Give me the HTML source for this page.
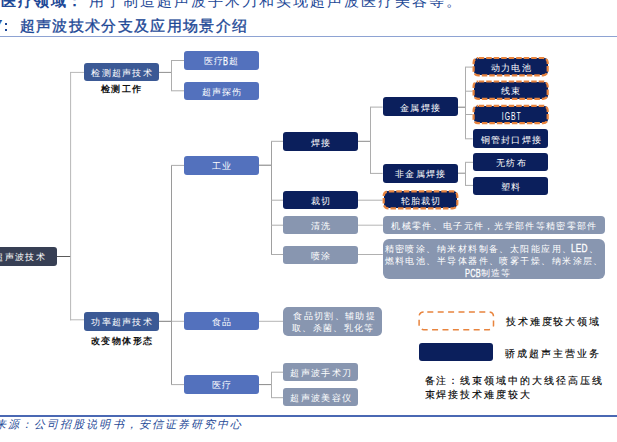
<!DOCTYPE html>
<html><head><meta charset="utf-8"><style>
*{margin:0;padding:0;box-sizing:border-box}
html,body{width:617px;height:442px;overflow:hidden;background:#fff}
body{position:relative;font-family:"Liberation Serif",serif}
.b{position:absolute;border-radius:3px;color:#fff;font-size:9px;padding-top:3px;font-weight:500;letter-spacing:1.3px;text-indent:1.3px;display:flex;align-items:center;justify-content:center;white-space:nowrap;line-height:1}
.ml{line-height:11.5px;justify-content:flex-start;padding-left:9px;white-space:normal}
.t{position:absolute;white-space:nowrap;line-height:1}
.lat{display:inline-block;font-family:'Liberation Sans',sans-serif;font-weight:bold;font-size:9.8px;vertical-align:top}
.lat span{display:inline-block;transform-origin:0 50%}
svg{position:absolute;left:0;top:0}
</style></head><body>

<div class="t" style="left:1px;top:-6px;font-size:15px;letter-spacing:2px;color:#1d4896"><b style="letter-spacing:1.6px">医疗领域：</b><span style="margin-left:4.5px">用于制造超声波手术刀和实现超声波医疗美容等。</span></div>
<div class="t" style="left:-22px;top:18.6px;font-size:15px;letter-spacing:1.35px;color:#1d4896;font-weight:400;-webkit-text-stroke:0.35px #1d4896"><span style="visibility:hidden">图7：</span><span>超声波技术分支及应用场景介绍</span></div>
<div class="t" style="left:-6px;top:18px;font-family:&quot;Liberation Serif&quot;,serif;font-size:15px;color:#1d4896;font-weight:bold;font-style:italic">7</div>
<div style="position:absolute;left:5.2px;top:23px;width:1.9px;height:2px;background:#1d4896"></div><div style="position:absolute;left:5.2px;top:29px;width:1.9px;height:2px;background:#1d4896"></div>
<div style="position:absolute;left:0;top:36px;width:617px;height:1px;background:#8ea3d3"></div>
<div style="position:absolute;left:0;top:414.5px;width:617px;height:2px;background:#4a68b3"></div>
<div class="t" style="left:-31px;top:419.3px;font-size:11px;letter-spacing:2.05px;color:#1d4896;font-style:italic">资料来源：公司招股说明书，安信证券研究中心</div>
<svg width="617" height="442" viewBox="0 0 617 442">
<line x1="57" y1="256.5" x2="71" y2="256.5" stroke="#5a5a5a" stroke-width="1"/>
<line x1="70.6" y1="72" x2="70.6" y2="320.3" stroke="#b8b8b8" stroke-width="1"/>
<line x1="70" y1="72.4" x2="84" y2="72.4" stroke="#b8b8b8" stroke-width="1"/>
<line x1="70" y1="319.8" x2="84" y2="319.8" stroke="#b8b8b8" stroke-width="1"/>
<line x1="159" y1="72.4" x2="171.5" y2="72.4" stroke="#909090" stroke-width="1"/>
<line x1="171.5" y1="60.5" x2="171.5" y2="90.8" stroke="#adadad" stroke-width="1"/>
<line x1="171" y1="60.5" x2="184" y2="60.5" stroke="#adadad" stroke-width="1"/>
<line x1="171" y1="90.8" x2="184" y2="90.8" stroke="#adadad" stroke-width="1"/>
<line x1="171.5" y1="165.4" x2="171.5" y2="384.6" stroke="#9a9a9a" stroke-width="1"/>
<line x1="159" y1="321.3" x2="171.5" y2="321.3" stroke="#7c7c7c" stroke-width="1"/>
<line x1="171" y1="165.4" x2="184" y2="165.4" stroke="#adadad" stroke-width="1"/>
<line x1="171" y1="384.6" x2="184" y2="384.6" stroke="#adadad" stroke-width="1"/>
<line x1="171.5" y1="321.3" x2="184" y2="321.3" stroke="#b5b5b5" stroke-width="1"/>
<line x1="259" y1="165.2" x2="271.5" y2="165.2" stroke="#7c7c7c" stroke-width="1"/>
<line x1="271.5" y1="141.3" x2="271.5" y2="254.5" stroke="#a0a0a0" stroke-width="1"/>
<line x1="271" y1="141.3" x2="283.3" y2="141.3" stroke="#adadad" stroke-width="1"/>
<line x1="271" y1="200.2" x2="283.3" y2="200.2" stroke="#adadad" stroke-width="1"/>
<line x1="271" y1="225.2" x2="283.3" y2="225.2" stroke="#adadad" stroke-width="1"/>
<line x1="271" y1="254.5" x2="283.3" y2="254.5" stroke="#adadad" stroke-width="1"/>
<line x1="259" y1="321.3" x2="283.2" y2="321.3" stroke="#b5b5b5" stroke-width="1"/>
<line x1="259" y1="384.6" x2="271.5" y2="384.6" stroke="#8a8a8a" stroke-width="1"/>
<line x1="271.5" y1="372.2" x2="271.5" y2="397.7" stroke="#adadad" stroke-width="1"/>
<line x1="271" y1="372.2" x2="283.2" y2="372.2" stroke="#adadad" stroke-width="1"/>
<line x1="271" y1="397.7" x2="283.2" y2="397.7" stroke="#adadad" stroke-width="1"/>
<line x1="358" y1="141.3" x2="370.5" y2="141.3" stroke="#8a8a8a" stroke-width="1"/>
<line x1="370.5" y1="107.1" x2="370.5" y2="173.4" stroke="#adadad" stroke-width="1"/>
<line x1="370" y1="107.1" x2="382.6" y2="107.1" stroke="#adadad" stroke-width="1"/>
<line x1="370" y1="173.4" x2="382.6" y2="173.4" stroke="#adadad" stroke-width="1"/>
<line x1="358" y1="200.2" x2="382.6" y2="200.2" stroke="#b0b0b0" stroke-width="1"/>
<line x1="358" y1="225.2" x2="382.8" y2="225.2" stroke="#b5b5b5" stroke-width="1"/>
<line x1="358" y1="254.5" x2="382.8" y2="254.5" stroke="#b0b0b0" stroke-width="1"/>
<line x1="457" y1="107.2" x2="465.5" y2="107.2" stroke="#7c7c7c" stroke-width="1"/>
<line x1="465.5" y1="67.1" x2="465.5" y2="138.8" stroke="#adadad" stroke-width="1"/>
<line x1="465" y1="67.1" x2="472.6" y2="67.1" stroke="#adadad" stroke-width="1"/>
<line x1="465" y1="91.2" x2="472.6" y2="91.2" stroke="#adadad" stroke-width="1"/>
<line x1="465" y1="114.5" x2="472.6" y2="114.5" stroke="#adadad" stroke-width="1"/>
<line x1="465" y1="138.8" x2="472.6" y2="138.8" stroke="#adadad" stroke-width="1"/>
<line x1="457" y1="173.2" x2="465.5" y2="173.2" stroke="#8a8a8a" stroke-width="1"/>
<line x1="465.5" y1="162.3" x2="465.5" y2="185.4" stroke="#adadad" stroke-width="1"/>
<line x1="465" y1="162.3" x2="473.3" y2="162.3" stroke="#adadad" stroke-width="1"/>
<line x1="465" y1="185.4" x2="473.3" y2="185.4" stroke="#adadad" stroke-width="1"/>
</svg>
<div class="b" style="left:-18px;top:247px;width:75px;height:18.5px;background:#373F54">超声波技术</div>
<div class="b" style="left:84px;top:62.5px;width:75px;height:18.5px;background:#3B5995">检测超声技术</div>
<div class="b" style="left:84px;top:312px;width:75px;height:18.6px;background:#3B5995">功率超声技术</div>
<div class="b" style="left:184px;top:51px;width:75px;height:19px;background:#5371BD"><span style="position:absolute;left:20px;top:6px;text-indent:0">医疗</span><span style="position:absolute;left:38.5px;top:6px;text-indent:0"><span class="lat" style="width:5.5px;letter-spacing:0px;font-weight:normal;font-size:10.6px;position:relative;top:-1.5px;-webkit-text-stroke:0.3px #fff"><span style="transform:scaleX(0.7)">B</span></span></span><span style="position:absolute;left:44.5px;top:6px;text-indent:0">超</span></div>
<div class="b" style="left:184px;top:81.5px;width:75px;height:18.6px;background:#5371BD">超声探伤</div>
<div class="b" style="left:184px;top:156px;width:75px;height:18.5px;background:#5371BD">工业</div>
<div class="b" style="left:184px;top:311.6px;width:75px;height:18.6px;background:#5371BD">食品</div>
<div class="b" style="left:184px;top:375.3px;width:75px;height:18.3px;background:#5371BD">医疗</div>
<div class="b" style="left:283.3px;top:132px;width:75px;height:19px;background:#0B1F5C">焊接</div>
<div class="b" style="left:283.3px;top:190.5px;width:75px;height:18.8px;background:#0B1F5C">裁切</div>
<div class="b" style="left:283.3px;top:216px;width:75px;height:18.2px;background:#8896B0">清洗</div>
<div class="b" style="left:283.3px;top:245.5px;width:75px;height:18.2px;background:#8896B0">喷涂</div>
<div class="b ml" style="left:283.2px;top:306.8px;width:99.3px;height:28.9px;background:#8896B0;border-radius:5px">食品切割、辅助提<br>取、杀菌、乳化等</div>
<div class="b" style="left:283.2px;top:362.9px;width:75px;height:18.5px;background:#8896B0">超声波手术刀</div>
<div class="b" style="left:283.2px;top:388.2px;width:75px;height:18.2px;background:#8896B0">超声波美容仪</div>
<div class="b" style="left:382.6px;top:97.4px;width:75px;height:18.5px;background:#0B1F5C">金属焊接</div>
<div class="b" style="left:382.6px;top:164.1px;width:75px;height:18.5px;background:#0B1F5C">非金属焊接</div>
<div class="b" style="left:383.70000000000005px;top:191.4px;width:73.6px;height:16.900000000000002px;background:#0B1F5C;border-radius:4px">轮胎裁切</div>
<div class="b" style="left:382.8px;top:215.6px;width:222px;height:18.6px;background:#8896B0;border-radius:4px">机械零件、电子元件，光学部件等精密零部件</div>
<div class="b" style="left:382.8px;top:239.3px;width:222px;height:39.8px;background:#8896B0;border-radius:6px"></div>
<div class="b" style="left:473.6px;top:58.0px;width:74.1px;height:17.3px;background:#0B1F5C;border-radius:4px">动力电池</div>
<div class="b" style="left:473.6px;top:81.5px;width:74.1px;height:17.400000000000002px;background:#0B1F5C;border-radius:4px">线束</div>
<div class="b" style="left:473.6px;top:105.8px;width:74.1px;height:17.400000000000002px;background:#0B1F5C;border-radius:4px"><span class="lat" style="width:22px;letter-spacing:1.4px;font-weight:normal;font-size:10.4px;position:relative;top:0.8px"><span style="transform:scaleX(0.66)">IGBT</span></span></div>
<div class="b" style="left:473.3px;top:129.2px;width:75px;height:18.7px;background:#0B1F5C">铜管封口焊接</div>
<div class="b" style="left:473.3px;top:153.1px;width:75px;height:18.4px;background:#0B1F5C">无纺布</div>
<div class="b" style="left:473.3px;top:176.7px;width:75px;height:18.3px;background:#0B1F5C">塑料</div>
<div class="t" style="left:384.5px;top:244.5px;font-size:9px;font-weight:500;color:#fff;letter-spacing:1.45px">精密喷涂、纳米材料制备、太阳能应用、<span class="lat" style="width:16px;letter-spacing:0.3px;font-weight:normal;font-size:10.6px;position:relative;top:-2px;-webkit-text-stroke:0.3px #fff;margin-left:-2px;margin-right:2px"><span style="transform:scaleX(0.78)">LED</span></span>、</div>
<div class="t" style="left:384.5px;top:256.5px;font-size:9px;font-weight:500;color:#fff;letter-spacing:1.45px">燃料电池、半导体器件、喷雾干燥、纳米涂层、</div>
<div class="t" style="left:465px;top:268.5px;font-size:9px;font-weight:500;color:#fff;letter-spacing:0.9px"><span class="lat" style="width:16px;letter-spacing:0.3px;font-weight:normal;font-size:10.6px;position:relative;top:-1px;-webkit-text-stroke:0.3px #fff"><span style="transform:scaleX(0.7)">PCB</span></span>制造等</div>
<svg width="617" height="442" viewBox="0 0 617 442">
<rect x="383.70000000000005" y="191.4" width="73.6" height="16.900000000000002" rx="4.5" fill="none" stroke="#E8843E" stroke-width="2.2" stroke-dasharray="5.5 2" stroke-dashoffset="-0.6"/>
<rect x="473.6" y="58.0" width="74.1" height="17.3" rx="4.5" fill="none" stroke="#E8843E" stroke-width="2.2" stroke-dasharray="5.5 2" stroke-dashoffset="-0.6"/>
<rect x="473.6" y="81.5" width="74.1" height="17.400000000000002" rx="4.5" fill="none" stroke="#E8843E" stroke-width="2.2" stroke-dasharray="5.5 2" stroke-dashoffset="-0.6"/>
<rect x="473.6" y="105.8" width="74.1" height="17.400000000000002" rx="4.5" fill="none" stroke="#E8843E" stroke-width="2.2" stroke-dasharray="5.5 2" stroke-dashoffset="-0.6"/>
<rect x="419.1" y="311.9" width="74.4" height="17.8" rx="4.5" fill="none" stroke="#E8843E" stroke-width="1.5" stroke-dasharray="6 4.4" stroke-dashoffset="-3.7"/>
</svg>
<div class="b" style="left:418.8px;top:342.9px;width:74.6px;height:18.3px;background:#0B1F5C"></div>
<div class="t" style="left:506px;top:317px;font-size:10px;letter-spacing:1.85px;color:#000;font-weight:400;-webkit-text-stroke:0.12px #000">技术难度较大领域</div>
<div class="t" style="left:505px;top:348.5px;font-size:10px;letter-spacing:1.95px;color:#000;font-weight:400;-webkit-text-stroke:0.12px #000">骄成超声主营业务</div>
<div class="t" style="left:424.5px;top:376px;font-size:10px;letter-spacing:1.95px;color:#000;font-weight:400;-webkit-text-stroke:0.12px #000">备注：线束领域中的大线径高压线</div>
<div class="t" style="left:424.5px;top:390px;font-size:10px;letter-spacing:1.95px;color:#000;font-weight:400;-webkit-text-stroke:0.12px #000">束焊接技术难度较大</div>
<div class="t" style="left:101px;top:85.3px;font-size:9px;font-weight:bold;color:#111;letter-spacing:1.4px">检测工作</div>
<div class="t" style="left:91px;top:337.3px;font-size:9px;font-weight:bold;color:#111;letter-spacing:1.4px">改变物体形态</div>
</body></html>
